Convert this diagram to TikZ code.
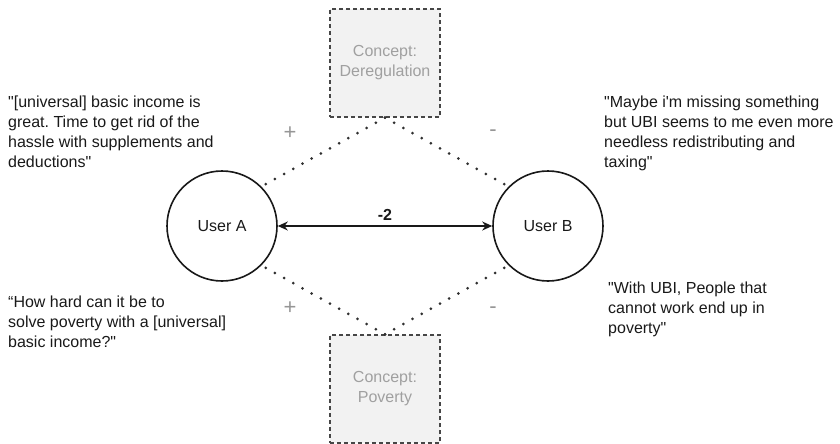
\documentclass[tikz,border=0pt]{standalone}
\usepackage{fontspec}
\setmainfont{Liberation Sans}[Ligatures=TeXOff]
\usetikzlibrary{arrows.meta}
\definecolor{conceptfill}{RGB}{242,242,242}
\definecolor{conceptline}{RGB}{70,70,70}
\definecolor{concepttext}{RGB}{160,160,160}
\definecolor{signgray}{RGB}{150,150,150}
\definecolor{ink}{RGB}{25,25,25}
\tikzset{
  user/.style={circle, draw=ink, line width=1.6pt, minimum size=110pt, inner sep=0pt, font=\fontsize{16}{20}\selectfont, text=ink},
  concept/.style={rectangle, draw=conceptline, fill=conceptfill, dashed, dash pattern=on 4pt off 3pt, line width=1.4pt, minimum width=110pt, minimum height=108pt, align=center, font=\fontsize{16}{20}\selectfont, text=concepttext},
  quote/.style={anchor=north west, inner sep=0pt, align=left, font=\fontsize{16}{20}\selectfont, text=ink},
  sign/.style={font=\fontsize{22}{22}\selectfont, text=signgray, inner sep=0pt},
  link/.style={draw=ink!90, line width=3pt, line cap=round, dash pattern=on 0pt off 10.5pt},
  rel/.style={draw=ink, line width=1.6pt, {Stealth[length=10pt,width=9pt]}-{Stealth[length=10pt,width=9pt]}}
}
\frenchspacing
\begin{document}
\begin{tikzpicture}[x=1pt,y=-1pt]
\useasboundingbox (0,0) rectangle (840,444);
\node[concept] (dereg) at (385,63) {Concept:\\Deregulation};
\node[concept] (pov) at (385,389) {Concept:\\Poverty};
\node[user] (A) at (222,226) {User A};
\node[user] (B) at (548,226) {User B};
\draw[rel] (A) -- node[above=1pt, font=\bfseries\fontsize{16}{20}\selectfont, text=ink] (w) {-2} (B);
\draw[link] (dereg.south) -- (A.45);
\draw[link] (dereg.south) -- (B.135);
\draw[link] (pov.north) -- (A.-45);
\draw[link] (pov.north) -- (B.-135);
\node[sign] (p1) at (290,133) {+};
\node[sign] (m1) at (493,133) {-};
\node[sign] (p2) at (290,308) {+};
\node[sign] (m2) at (493,310) {-};
\node[quote] (qa1) at (8,96) {"[universal] basic income is\\great. Time to get rid of the\\hassle with supplements and\\deductions"};
\node[quote] (qa2) at (8,296) {“How hard can it be to\\solve poverty with a [universal]\\basic income?"};
\node[quote] (qb1) at (604,96) {"Maybe i'm missing something\\but UBI seems to me even more\\needless redistributing and\\taxing"};
\node[quote] (qb2) at (608,282) {"With UBI, People that\\cannot work end up in\\poverty"};
\end{tikzpicture}
\end{document}
